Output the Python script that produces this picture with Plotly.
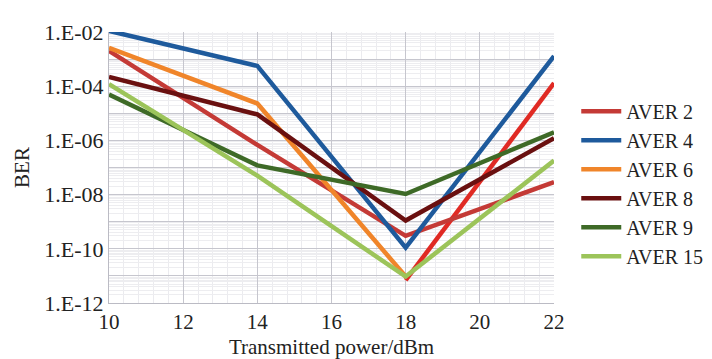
import plotly.graph_objects as go

power = [10, 14, 18, 22]
aver2 = [2.0e-3, 6.8e-7, 3.0e-10, 2.9e-8]
aver4 = [1.1e-2, 5.6e-4, 1.1e-10, 1.3e-3]
aver6 = [2.6e-3, 2.3e-5, 9.5e-12, None]
aver6_cont_x = [18, 22]
aver6_cont = [6.9e-12, 1.3e-4]
aver8 = [2.2e-4, 9.1e-6, 1.1e-9, 1.2e-6]
aver9 = [4.9e-5, 1.2e-7, 1.05e-8, 2.0e-6]
aver15 = [1.2e-4, 5.0e-8, 9.5e-12, 1.8e-7]

names = ["AVER 2", "AVER 4", "AVER 6", "AVER 8", "AVER 9", "AVER 15"]
colors = ["#C43A36", "#1E5A9C", "#F0852A", "#6A1010", "#3E6A27", "#9CC45A"]
series = [aver2, aver4, aver6, aver8, aver9, aver15]

y_major = [10.0 ** -k for k in range(2, 13)]
y_text = ["1.E-%02d" % k if k % 2 == 0 else "" for k in range(2, 13)]
y_minor = [m * 10.0 ** -k for k in range(3, 13) for m in range(2, 10)]
x_ticks = [10, 12, 14, 16, 18, 20, 22]

fig = go.Figure()
fig.add_trace(go.Scatter(x=aver6_cont_x, y=aver6_cont, mode="lines",
                         line=dict(color="#E02A24", width=4.5),
                         showlegend=False, hoverinfo="skip"))
for n, c, s in zip(names, colors, series):
    fig.add_trace(go.Scatter(x=power, y=s, name=n, mode="lines",
                             line=dict(color=c, width=4.5)))

font = "Liberation Serif, Times New Roman, serif"
fig.update_layout(
    width=712, height=359,
    margin=dict(l=101, r=160, t=14, b=62),
    paper_bgcolor="white", plot_bgcolor="white",
    font=dict(family=font, size=20, color="#222"),
    legend=dict(x=1.05, y=0.44, xanchor="left", yanchor="middle",
                font=dict(size=20), tracegroupgap=0, itemwidth=40),
    xaxis=dict(range=[10, 22], tickvals=x_ticks, showgrid=True,
               gridcolor="#C6C6CE", gridwidth=1,
               minor=dict(dtick=0.4, showgrid=True, gridcolor="#EBEBEF"),
               showline=True, linecolor="#BBBBC4", linewidth=1,
               ticks="", zeroline=False, tickfont=dict(size=21),
               title=dict(text="Transmitted power/dBm", standoff=6,
                          font=dict(size=21))),
    yaxis=dict(type="log", range=[-12, -2], tickvals=y_major, ticktext=y_text,
               showgrid=True, gridcolor="#C6C6CE", gridwidth=1,
               minor=dict(tickvals=y_minor, showgrid=True, gridcolor="#EDEDF0"),
               showline=True, linecolor="#BBBBC4", linewidth=1,
               ticks="", zeroline=False, tickfont=dict(size=22),
               title=dict(text="BER", standoff=8, font=dict(size=21))),
)

fig.write_html("out.html")
